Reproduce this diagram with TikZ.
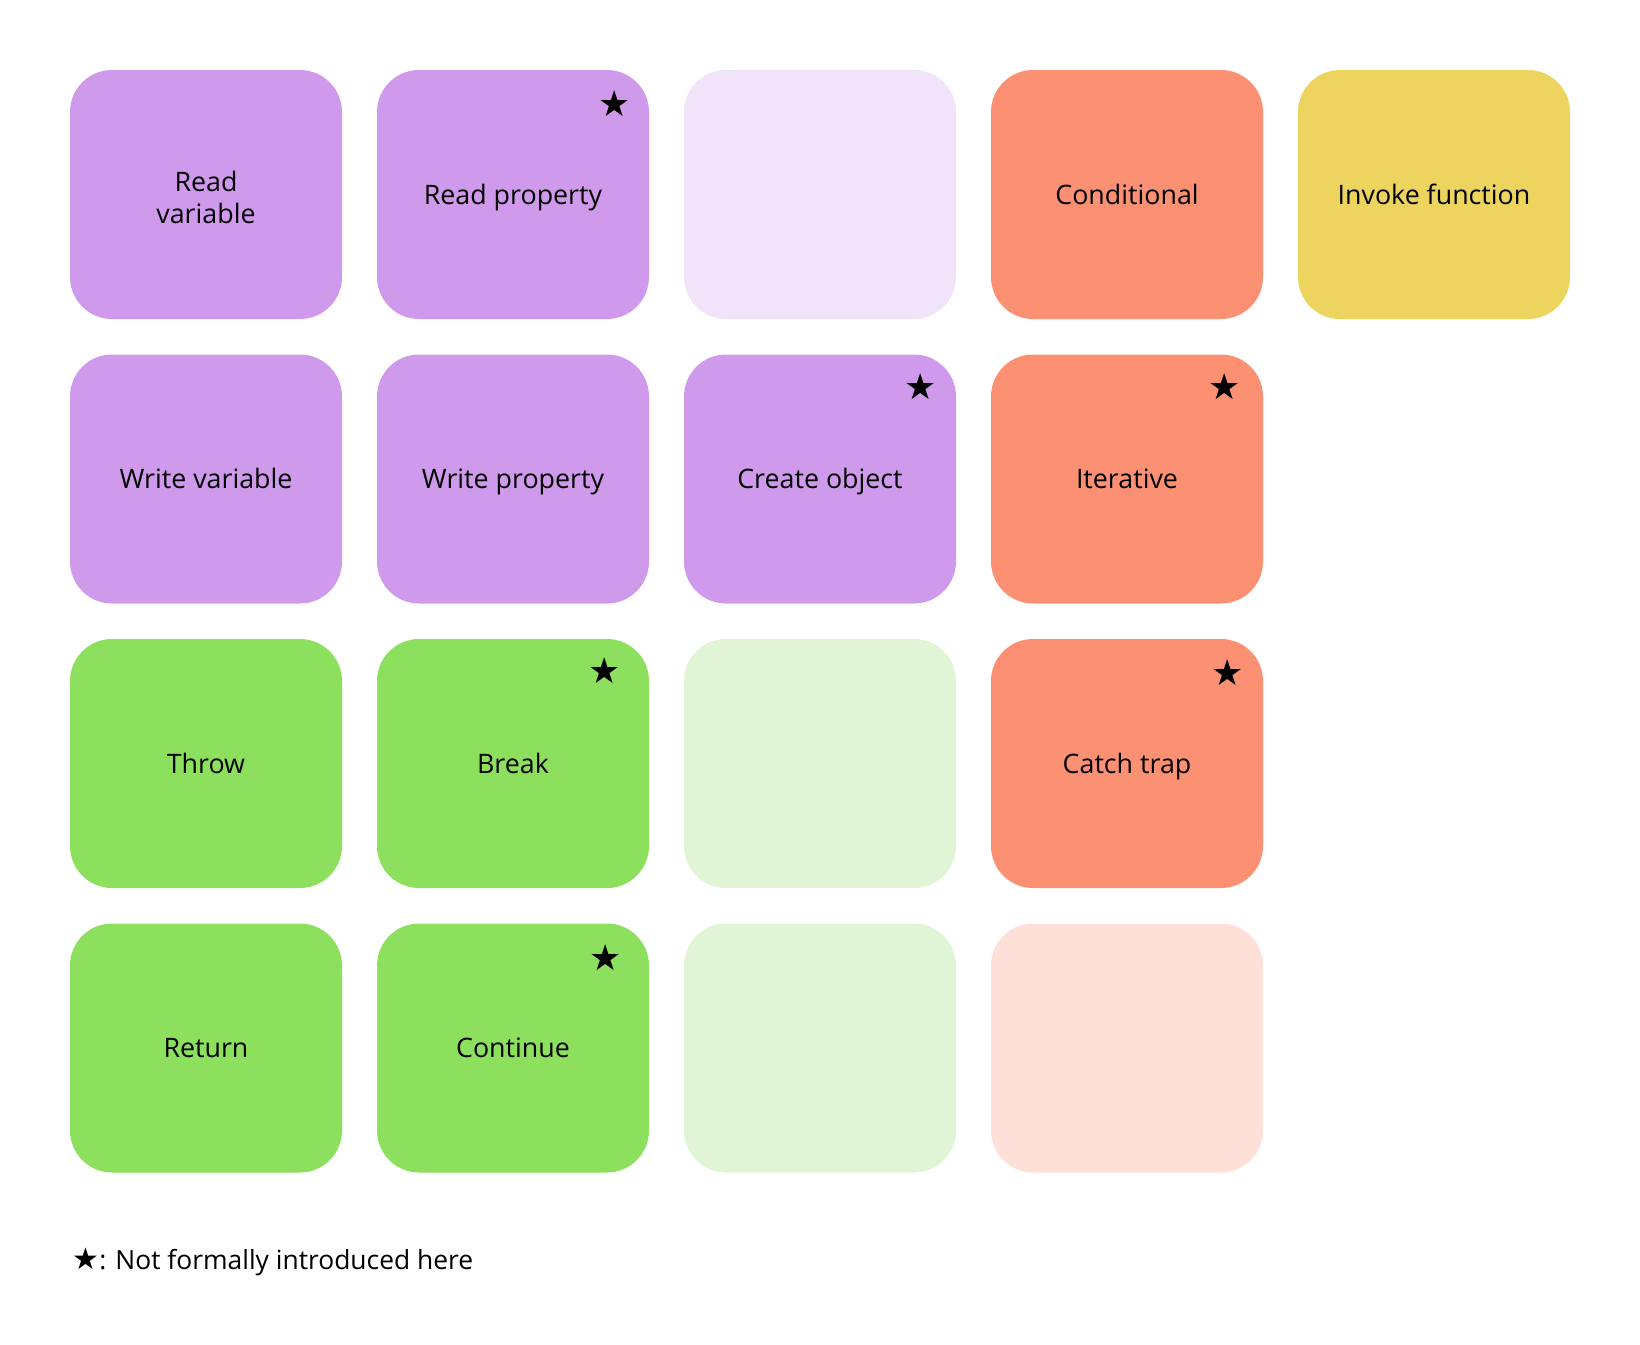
\documentclass[tikz,border=0pt]{standalone}
\usepackage{fontspec}
\setmainfont{Open Sans}
\newfontfamily\starfont{DejaVu Sans}
\usepackage{tikz}

\definecolor{purp}{HTML}{CF9AEC}
\definecolor{purplite}{HTML}{F0E3FA}
\definecolor{orng}{HTML}{FB9172}
\definecolor{orngliite}{HTML}{FEE0D9}
\definecolor{yelw}{HTML}{EDD45E}
\definecolor{grn}{HTML}{8CE05E}
\definecolor{grnlite}{HTML}{E0F5D5}

\begin{document}
\begin{tikzpicture}[x=0.5pt,y=-0.5pt,
  op/.style={rounded corners=21pt,minimum width=136pt,minimum height=124.5pt,
    inner sep=0pt,align=center,font=\fontsize{13.4}{16.35}\selectfont,
    text height=11pt,text depth=1.4pt},
  starmark/.style={inner sep=0pt,font=\starfont\fontsize{18}{18}\selectfont}]
\useasboundingbox (0,0) rectangle (1640,1345);
\node [op,fill=purp,text height=29.4pt,text depth=0pt] (rv) at (206,194.5) {Read\\variable};
\node [op,fill=purp] (rp) at (513,194.5) {Read property};
\node [op,fill=purplite] (e1) at (820,194.5) {};
\node [op,fill=orng] (cd) at (1127,194.5) {Conditional};
\node [op,fill=yelw] (fn) at (1434,194.5) {Invoke function};
\node [op,fill=purp] (wv) at (206,479) {Write variable};
\node [op,fill=purp] (wp) at (513,479) {Write property};
\node [op,fill=purp] (co) at (820,479) {Create object};
\node [op,fill=orng] (it) at (1127,479) {Iterative};
\node [op,fill=grn] (th) at (206,763.5) {Throw};
\node [op,fill=grn] (br) at (513,763.5) {Break};
\node [op,fill=grnlite] (e2) at (820,763.5) {};
\node [op,fill=orng] (ct) at (1127,763.5) {Catch trap};
\node [op,fill=grn] (rt) at (206,1048) {Return};
\node [op,fill=grn] (cn) at (513,1048) {Continue};
\node [op,fill=grnlite] (e3) at (820,1048) {};
\node [op,fill=orngliite] (e4) at (1127,1048) {};
\node [starmark] (rps) at ([xshift=-17.5pt,yshift=-17pt]rp.north east) {★};
\node [starmark] (cos) at ([xshift=-18pt,yshift=-16pt]co.north east) {★};
\node [starmark] (its) at ([xshift=-19.5pt,yshift=-16pt]it.north east) {★};
\node [starmark] (brs) at ([xshift=-22.5pt,yshift=-16pt]br.north east) {★};
\node [starmark] (cts) at ([xshift=-18pt,yshift=-17pt]ct.north east) {★};
\node [starmark] (cns) at ([xshift=-22pt,yshift=-17pt]cn.north east) {★};
\node [anchor=west,inner sep=0pt,font=\fontsize{13.2}{15}\selectfont] (lg) at (72,1262)
  {{\starfont\fontsize{15}{15}\selectfont ★}: Not formally introduced here};
\end{tikzpicture}
\end{document}
